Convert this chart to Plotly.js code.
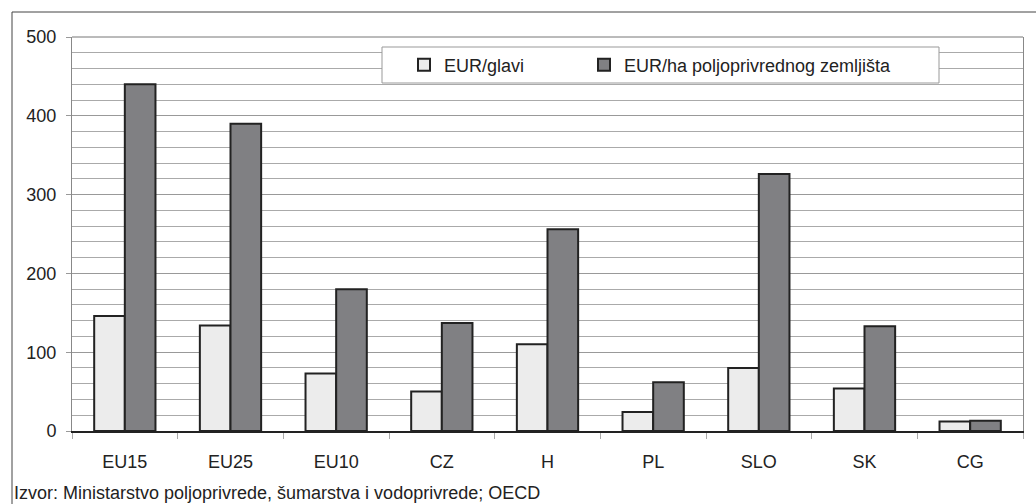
<!DOCTYPE html>
<html>
<head>
<meta charset="utf-8">
<script src="https://cdn.plot.ly/plotly-3.0.1.min.js"></script>
<style>html,body{margin:0;padding:0;background:#fff;}#chart{width:1036px;height:504px;}</style>
</head>
<body>
<div id="chart"></div>
<script>
const categories = ["EU15", "EU25", "EU10", "CZ", "H", "PL", "SLO", "SK", "CG"];
const perHead = [146, 134, 73, 50, 110, 24, 80, 54, 12];
const perHectare = [440, 390, 180, 137, 256, 62, 326, 133, 13];
const seriesNames = ["EUR/glavi", "EUR/ha poljoprivrednog zemljišta"];
const yTicks = [0, 100, 200, 300, 400, 500];
const sourceText = "Izvor: Ministarstvo poljoprivrede, šumarstva i vodoprivrede; OECD";

const W = 1036, H = 504;
const mL = 72, mR = 13, mT = 37, mB = 73;
const pw = W - mL - mR, ph = H - mT - mB;
const px = x => (x - mL) / pw;
const py = y => (H - mB - y) / ph;
const font = "Arial, 'Liberation Sans', sans-serif";
const fs = 18;

const traces = [
  {type: "bar", name: seriesNames[0], x: categories, y: perHead, legend: "legend",
   marker: {color: "#ececec", line: {color: "#222", width: 2}}},
  {type: "bar", name: seriesNames[1], x: categories, y: perHectare, legend: "legend2",
   marker: {color: "#808083", line: {color: "#222", width: 2}}}
];

const legendBase = {orientation: "h", xanchor: "left", y: py(65), yanchor: "middle",
  bgcolor: "rgba(0,0,0,0)", borderwidth: 0, itemwidth: 30,
  font: {family: font, size: fs, color: "#222"}};

const layout = {
  width: W, height: H,
  margin: {l: mL, r: mR, t: mT, b: mB},
  paper_bgcolor: "#fff", plot_bgcolor: "#fff",
  font: {family: font, size: fs, color: "#222"},
  barmode: "group", bargap: 0.42, bargroupgap: 0,
  showlegend: true,
  legend: Object.assign({}, legendBase, {x: px(404)}),
  legend2: Object.assign({}, legendBase, {x: px(584)}),
  xaxis: {type: "category", showline: true, linecolor: "#222", linewidth: 1.5,
          ticks: "outside", tickson: "boundaries", ticklen: 6, tickcolor: "#aaa",
          ticklabelstandoff: 14, showgrid: false, zeroline: false,
          tickfont: {family: font, size: fs, color: "#222"}},
  yaxis: {range: [0, 500], tickvals: yTicks, ticks: "outside", ticklen: 5, tickcolor: "#999",
          showline: true, linecolor: "#888", linewidth: 1, mirror: true,
          showgrid: true, gridcolor: "#999", gridwidth: 1, zeroline: false,
          minor: {dtick: 20, showgrid: true, gridcolor: "#aaa", gridwidth: 1},
          ticklabelstandoff: 6,
          tickfont: {family: font, size: fs, color: "#222"}},
  shapes: [
    {type: "rect", xref: "paper", yref: "paper", x0: px(12), x1: px(1100), y0: py(560), y1: py(12),
     line: {color: "#444", width: 1}, fillcolor: "rgba(0,0,0,0)", layer: "below"},
    {type: "line", xref: "paper", yref: "paper", x0: 0, x1: 1, y0: 1, y1: 1,
     line: {color: "#777", width: 1}},
    {type: "rect", xref: "paper", yref: "paper", x0: px(382), x1: px(939), y0: py(83), y1: py(47),
     line: {color: "#999", width: 1}, fillcolor: "#fff", layer: "above"}
  ],
  annotations: [
    {xref: "paper", yref: "paper", x: px(12), y: py(493), xanchor: "left", yanchor: "middle",
     text: sourceText, showarrow: false, font: {family: font, size: fs, color: "#222"}}
  ]
};

Plotly.newPlot("chart", traces, layout, {displayModeBar: false, staticPlot: true});
</script>
</body>
</html>
